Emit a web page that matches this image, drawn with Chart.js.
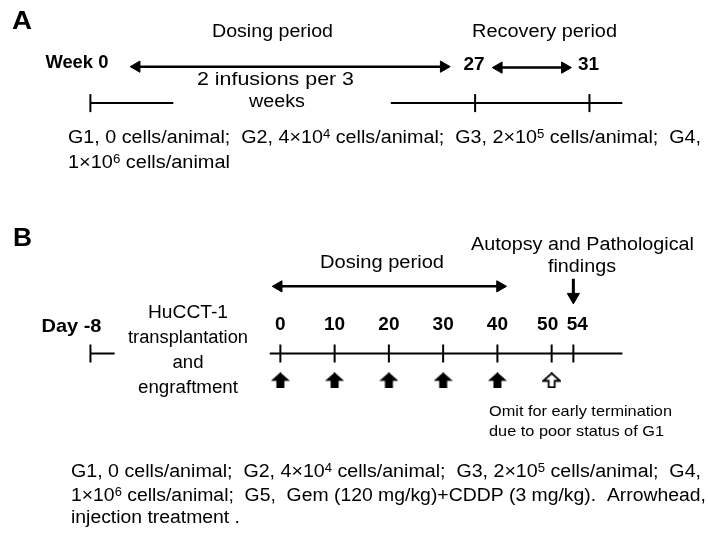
<!DOCTYPE html>
<html>
<head>
<meta charset="utf-8">
<script src="https://cdn.jsdelivr.net/npm/chart.js@4.4.1/dist/chart.umd.min.js"></script>
<style>
  html, body { margin: 0; padding: 0; background: #fff; }
  #wrap { width: 708px; height: 542px; }
</style>
</head>
<body>
<div id="wrap"><canvas id="timeline" width="708" height="542"></canvas></div>
<script>
// panel A: study weeks
const weekTicks = [0, 27, 31];
const weekLabels = ['Week 0', '27', '31'];
const dosingWeeks = [0, 27];
const recoveryWeeks = [27, 31];

// panel B: study days
const dayTicks = [-8, 0, 10, 20, 30, 40, 50, 54];
const dayLabels = ['Day -8', '0', '10', '20', '30', '40', '50', '54'];
const dosingDays = [0, 40];
const injectionDays = [0, 10, 20, 30, 40];
const omittedDays = [50];
const autopsyDay = 54;

const FONT = '"Liberation Sans", Arial, sans-serif';

// both axes are broken: early values sit left of the break, shifted along the scale
const A_PX = 29.5, A_MIN = 27 - 479 / A_PX, A_MAX = A_MIN + 708 / A_PX, SHIFT_A = 13.54;
const B_PX = 5.6, B_MIN = -278 / B_PX, B_MAX = B_MIN + 708 / B_PX, SHIFT_B = -27;
const ax = w => (w < 10 ? w + SHIFT_A : w);
const bx = d => (d < -3 ? d + SHIFT_B : d);

// rows (y scale runs top-down over the page)
const ROW = { aArrow: 58, aLine: 96, bArrow: 287, bLine: 357, bInj: 385, autopsyTop: 279, autopsyEnd: 298 };

function blockArrow(hollow){
  const c = document.createElement('canvas');
  c.width = 19; c.height = 16;
  const g = c.getContext('2d');
  g.beginPath();
  const p = hollow ? 1 : 0;
  g.moveTo(9.5, p); g.lineTo(19 - p, 8.5); g.lineTo(13.5 - p, 8.5); g.lineTo(13.5 - p, 16 - p);
  g.lineTo(5.5 + p, 16 - p); g.lineTo(5.5 + p, 8.5); g.lineTo(p, 8.5); g.closePath();
  if(hollow){ g.fillStyle = '#fff'; g.fill(); g.lineWidth = 1.8; g.strokeStyle = '#000'; g.stroke(); }
  else { g.fillStyle = '#000'; g.fill(); }
  return c;
}

function seg(xs, y, axis, map){
  return { xAxisID: axis, data: xs.map(v => ({ x: map(v), y })), borderColor: '#000', borderWidth: 2, pointRadius: 0, showLine: true };
}
function ticks(xs, y, axis, map){
  return { xAxisID: axis, data: xs.map(v => ({ x: map(v), y })), showLine: false, pointStyle: 'line',
    pointRotation: 90, pointRadius: 9, pointBorderWidth: 2, borderColor: '#000' };
}
function dblArrow(from, to, y, axis, map){
  return { xAxisID: axis, data: [{ x: map(from), y }, { x: map(to), y }], showLine: true, borderColor: '#000',
    backgroundColor: '#000', borderWidth: 2.5, pointStyle: 'triangle', pointRotation: [-90, 90], pointRadius: 6.5, pointBorderWidth: 1 };
}

const datasets = [
  // panel A
  seg([weekTicks[0], 2.9], ROW.aLine, 'xA', ax),
  seg([24.05, 32.15], ROW.aLine, 'xA', ax),
  ticks(weekTicks, ROW.aLine, 'xA', ax),
  dblArrow(dosingWeeks[0] + 1.62, dosingWeeks[1] - 1.1, ROW.aArrow, 'xA', ax),
  dblArrow(recoveryWeeks[0] + 0.83, recoveryWeeks[1] - 0.86, ROW.aArrow + 1, 'xA', ax),
  // panel B
  seg([dayTicks[0], -3.54], ROW.bLine, 'xB', bx),
  seg([-1.96, 63.04], ROW.bLine, 'xB', bx),
  ticks(dayTicks, ROW.bLine, 'xB', bx),
  dblArrow(dosingDays[0] - 0.3, dosingDays[1] + 0.48, ROW.bArrow, 'xB', bx),
  { xAxisID: 'xB', data: [{ x: autopsyDay, y: ROW.autopsyTop }, { x: autopsyDay, y: ROW.autopsyEnd }], showLine: true,
    borderColor: '#000', backgroundColor: '#000', borderWidth: 3, pointStyle: 'triangle', pointRotation: 180,
    pointRadius: [0, 7], pointBorderWidth: 1 },
  { xAxisID: 'xB', data: injectionDays.map(d => ({ x: bx(d), y: ROW.bInj })), showLine: false, pointStyle: blockArrow(false) },
  { xAxisID: 'xB', data: omittedDays.map(d => ({ x: bx(d), y: ROW.bInj })), showLine: false, pointStyle: blockArrow(true) }
];

// text with ^d superscripts, y = cap centre; w = target width (horizontal stretch), else k
function txt(ctx, s, x, y, size, o = {}){
  const parts = s.split(/\^(\d)/);
  const weight = o.bold ? 'bold ' : '';
  const fN = weight + size + 'px ' + FONT, fS = weight + Math.round(size * 0.68) + 'px ' + FONT;
  ctx.save();
  ctx.textBaseline = 'alphabetic';
  ctx.textAlign = 'left';
  ctx.fillStyle = '#000';
  const widths = parts.map((p, i) => { ctx.font = i % 2 ? fS : fN; return ctx.measureText(p).width; });
  const nat = widths.reduce((a, b) => a + b, 0);
  const k = o.w ? o.w / nat : (o.k || 1);
  const align = o.align || 'left';
  const left = align === 'center' ? x - nat * k / 2 : align === 'right' ? x - nat * k : x;
  ctx.translate(left, y + size * 0.36);
  ctx.scale(k, 1);
  let cx = 0;
  parts.forEach((p, i) => {
    ctx.font = i % 2 ? fS : fN;
    ctx.fillText(p, cx, i % 2 ? -size * 0.33 : 0);
    cx += widths[i];
  });
  ctx.restore();
}

const labels = {
  id: 'labels',
  afterDatasetsDraw(chart){
    const ctx = chart.ctx;
    const sA = chart.scales.xA, sB = chart.scales.xB;

    // panel A
    txt(ctx, 'A', 12, 20, 25, { bold: true, w: 20 });
    txt(ctx, 'Dosing period', 212, 31, 18, { w: 121 });
    txt(ctx, 'Recovery period', 472, 31, 18, { w: 145 });
    weekTicks.forEach((w, i) => {
      const px = sA.getPixelForValue(ax(w));
      if(i === 0) txt(ctx, weekLabels[i], px + 18, 62, 18, { bold: true, align: 'right', w: 63 });
      else txt(ctx, weekLabels[i], px - 1, 63, 19, { bold: true, align: 'center' });
    });
    txt(ctx, '2 infusions per 3', 197, 79, 18, { w: 157 });
    txt(ctx, 'weeks', 277, 101, 18, { align: 'center', w: 56 });
    txt(ctx, 'G1, 0 cells/animal;  G2, 4×10^4 cells/animal;  G3, 2×10^5 cells/animal;  G4,', 68, 137, 18, { w: 633 });
    txt(ctx, '1×10^6 cells/animal', 68, 162, 18, { w: 162 });

    // panel B
    txt(ctx, 'B', 13, 237, 25, { bold: true, w: 19 });
    txt(ctx, 'Dosing period', 320, 262, 18, { w: 124 });
    txt(ctx, 'Autopsy and Pathological', 471, 244, 18, { w: 223 });
    txt(ctx, 'findings', 582, 266, 18, { align: 'center', w: 68 });
    dayTicks.forEach((d, i) => {
      const px = sB.getPixelForValue(bx(d));
      // 50 and 54 sit close together; nudge their labels apart
      const nudge = d === 50 ? -4 : d === 54 ? 4 : 0;
      if(i === 0) txt(ctx, dayLabels[i], px + 11, 325, 19, { bold: true, align: 'right', w: 60 });
      else txt(ctx, dayLabels[i], px + nudge, 323, 19, { bold: true, align: 'center' });
    });
    [['HuCCT-1', 80], ['transplantation', 120], ['and', 31], ['engraftment', 100]].forEach(([s, w], i) => {
      txt(ctx, s, 188, 312 + i * 24.7, 18, { align: 'center', w });
    });
    txt(ctx, 'Omit for early termination', 489, 411, 15, { w: 183 });
    txt(ctx, 'due to poor status of G1', 489, 431, 15, { w: 175 });
    txt(ctx, 'G1, 0 cells/animal;  G2, 4×10^4 cells/animal;  G3, 2×10^5 cells/animal;  G4,', 71, 471, 18, { w: 630 });
    txt(ctx, '1×10^6 cells/animal;  G5,  Gem (120 mg/kg)+CDDP (3 mg/kg).  Arrowhead,', 71, 495, 18, { w: 635 });
    txt(ctx, 'injection treatment .', 71, 517, 18, { w: 169 });
  }
};

new Chart(document.getElementById('timeline'), {
  type: 'line',
  data: { datasets },
  options: {
    responsive: false,
    animation: false,
    layout: { padding: 0 },
    plugins: { legend: { display: false }, tooltip: { enabled: false } },
    scales: {
      xA: { type: 'linear', display: false, min: A_MIN, max: A_MAX },
      xB: { type: 'linear', display: false, min: B_MIN, max: B_MAX },
      y: { type: 'linear', display: false, min: 0, max: 542, reverse: true }
    }
  },
  plugins: [labels]
});
</script>
</body>
</html>
